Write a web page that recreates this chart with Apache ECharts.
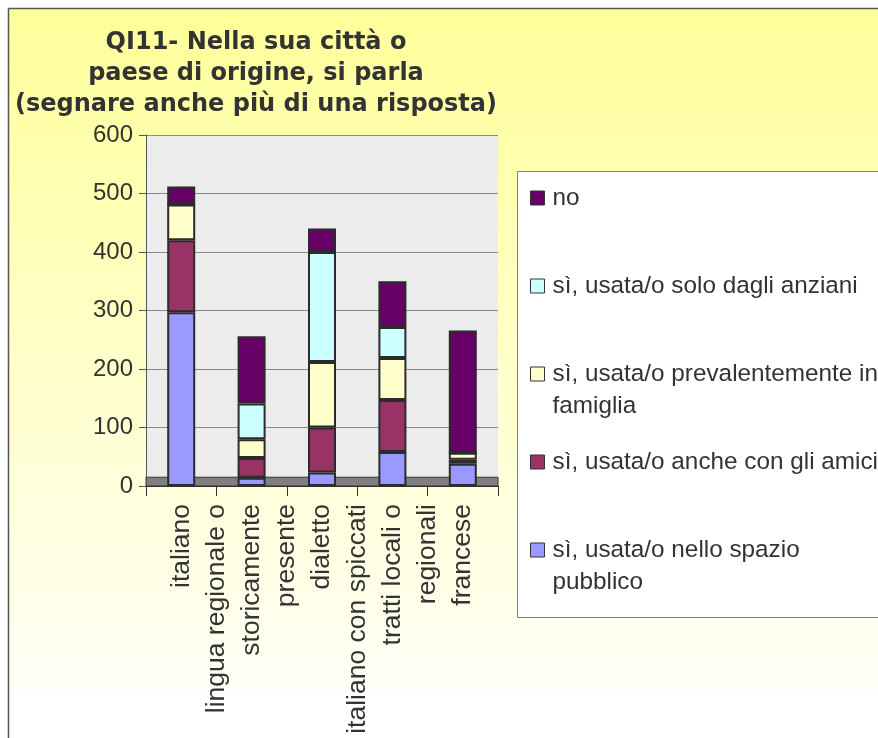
<!DOCTYPE html>
<html>
<head>
<meta charset="utf-8">
<script src="https://cdn.jsdelivr.net/npm/echarts@6/dist/echarts.min.js"></script>
<style>
html,body{margin:0;padding:0;background:#fff;overflow:hidden;}
#chart{width:878px;height:738px;}
</style>
</head>
<body>
<div id="chart"></div>
<script>
// ---- data ----
var titleText = 'QI11- Nella sua città o\npaese di origine, si parla\n(segnare anche più di una risposta)';
var categories = ['italiano', 'lingua regionale o\nstoricamente\npresente', 'dialetto', 'italiano con spiccati\ntratti locali o\nregionali', 'francese'];
var seriesNames = ['sì, usata/o nello spazio\npubblico', 'sì, usata/o anche con gli amici', 'sì, usata/o prevalentemente in\nfamiglia', 'sì, usata/o solo dagli anziani', 'no'];
var pubblico = [297, 14, 23, 58, 38];
var amici = [123, 34, 77, 89, 7];
var famiglia = [61, 32, 112, 72, 12];
var anziani = [0, 61, 188, 53, 0];
var no = [31, 115, 40, 78, 209];
var yMin = 0, yMax = 600, yStep = 100;
var legendOrder = ['no', 'sì, usata/o solo dagli anziani', 'sì, usata/o prevalentemente in\nfamiglia', 'sì, usata/o anche con gli amici', 'sì, usata/o nello spazio\npubblico'];

// ---- styles ----
var colors = ['#9999ff', '#993366', '#ffffcc', '#ccffff', '#660066'];
var values = [pubblico, amici, famiglia, anziani, no];
var TXT = '#333333';

var chart = echarts.init(document.getElementById('chart'));

var series = seriesNames.map(function (name, i) {
  var s = {
    name: name,
    type: 'bar',
    stack: 'total',
    barWidth: 28,
    data: values[i],
    itemStyle: { color: colors[i], borderColor: '#2b2b2b', borderWidth: 2 },
    emphasis: { disabled: true }
  };
  if (i === 0) {
    s.markArea = {
      silent: true,
      itemStyle: { color: '#808080', borderColor: '#333', borderWidth: 1 },
      data: [[{ yAxis: 0 }, { yAxis: 15 }]]
    };
  }
  return s;
});

var L = 32;
var legendData = legendOrder.map(function (n) {
  var twoLine = n.indexOf('\n') >= 0;
  return {
    name: n,
    textStyle: {
      lineHeight: L,
      padding: twoLine ? [0, 0, 0, 3] : [L, 0, L, 3]
    }
  };
});

chart.setOption({
  backgroundColor: new echarts.graphic.LinearGradient(0, 0, 0, 1, [
    { offset: 0, color: '#ffff99' },
    { offset: 0.935, color: '#fffff6' },
    { offset: 0.936, color: '#ffffff' },
    { offset: 1, color: '#ffffff' }
  ]),
  animation: false,
  title: {
    text: titleText,
    left: 251,
    top: 22,
    textAlign: 'center',
    textStyle: { fontFamily: 'DejaVu Sans', fontWeight: 'bold', fontSize: 24, lineHeight: 31, color: TXT }
  },
  graphic: [
    { type: 'rect', shape: { x: 0, y: 0, width: 878, height: 8 }, style: { fill: '#fff' }, silent: true },
    { type: 'rect', shape: { x: 0, y: 0, width: 8, height: 738 }, style: { fill: '#fff' }, silent: true },
    { type: 'line', shape: { x1: 8.5, y1: 8.5, x2: 878, y2: 8.5 }, style: { stroke: '#555', lineWidth: 1.5 }, silent: true },
    { type: 'line', shape: { x1: 8.5, y1: 8.5, x2: 8.5, y2: 738 }, style: { stroke: '#555', lineWidth: 1.5 }, silent: true },
    { type: 'rect', shape: { x: 517.5, y: 171.5, width: 400, height: 446 }, style: { fill: '#fff', stroke: '#808080', lineWidth: 1 }, silent: true }
  ],
  legend: {
    orient: 'vertical',
    left: 530,
    top: 150,
    padding: 0,
    itemGap: -8,
    itemWidth: 14,
    itemHeight: 14,
    icon: 'rect',
    selectedMode: false,
    itemStyle: { borderColor: '#333', borderWidth: 1 },
    textStyle: { fontFamily: 'Liberation Sans', fontSize: 24.3, color: TXT },
    formatter: function (name) {
      // two-line entries: keep first line level with the swatch
      return name.indexOf('\n') >= 0 ? '\n' + name : name;
    },
    data: legendData
  },
  grid: {
    left: 146, right: 380, top: 135, bottom: 252,
    show: true, backgroundColor: '#ececec', borderWidth: 0,
    outerBoundsMode: 'none'
  },
  xAxis: {
    type: 'category',
    data: categories,
    axisLine: { lineStyle: { color: '#333', width: 1 } },
    axisTick: { show: true, length: 10, interval: 0, lineStyle: { color: '#333' } },
    axisLabel: {
      interval: 0, rotate: 90, margin: 18,
      fontFamily: 'Liberation Sans', fontSize: 26.5, lineHeight: 35, color: TXT
    }
  },
  yAxis: {
    type: 'value',
    min: yMin, max: yMax, interval: yStep,
    axisLine: { show: true, lineStyle: { color: '#555' } },
    axisTick: { show: true, length: 7, lineStyle: { color: '#555' } },
    axisLabel: { margin: 13, fontFamily: 'Liberation Sans', fontSize: 24, color: TXT },
    splitLine: { lineStyle: { color: '#8a8a8a', width: 1 } }
  },
  series: series
});
</script>
</body>
</html>
